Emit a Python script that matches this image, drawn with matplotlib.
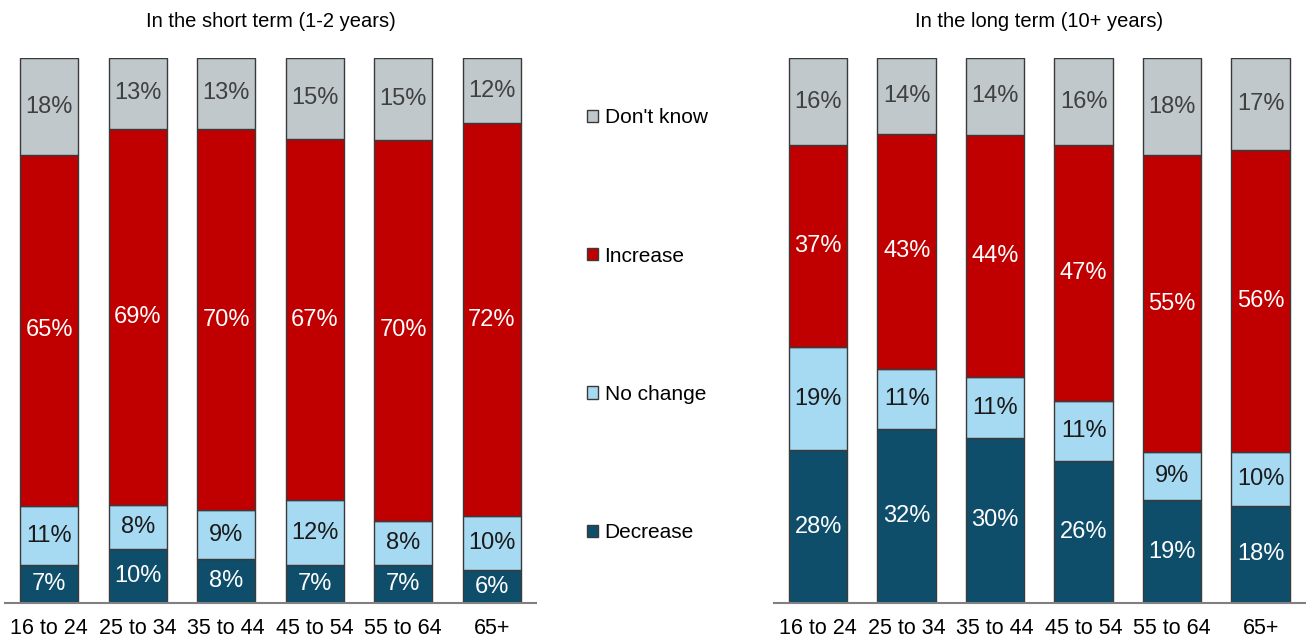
import numpy as np
import matplotlib.pyplot as plt
from matplotlib.patches import Patch

plt.rcParams['font.family'] = ['Liberation Sans', 'DejaVu Sans']

ages = ['16 to 24', '25 to 34', '35 to 44', '45 to 54', '55 to 64', '65+']
series = ['Decrease', 'No change', 'Increase', "Don't know"]
colors = ['#0E4E6B', '#A6D9F2', '#C00000', '#C0C8CC']
txt_colors = ['white', '#1a1a1a', 'white', '#404040']

# short term (1-2 years)
short_decrease = [7, 10, 8, 7, 7, 6]
short_nochange = [11, 8, 9, 12, 8, 10]
short_increase = [65, 69, 70, 67, 70, 72]
short_dontknow = [18, 13, 13, 15, 15, 12]

# long term (10+ years)
long_decrease = [28, 32, 30, 26, 19, 18]
long_nochange = [19, 11, 11, 11, 9, 10]
long_increase = [37, 43, 44, 47, 55, 56]
long_dontknow = [16, 14, 14, 16, 18, 17]

fig = plt.figure(figsize=(13.06, 6.39), dpi=100)
ax1 = fig.add_axes([0.0038, 0.0563, 0.4066, 0.853])
ax2 = fig.add_axes([0.5926, 0.0563, 0.4066, 0.853])


def draw(ax, data, title):
    data = np.array(data, dtype=float)
    totals = data.sum(axis=0)
    shares = data / totals * 100
    x = np.arange(len(ages))
    bottom = np.zeros(len(ages))
    for i in range(len(series)):
        ax.bar(x, shares[i], 0.66, bottom=bottom, color=colors[i],
               edgecolor='#3a3a3a', linewidth=1.0, zorder=2)
        for j in range(len(ages)):
            ax.text(x[j], bottom[j] + shares[i][j] / 2, '%d%%' % data[i][j],
                    ha='center', va='center', fontsize=17, color=txt_colors[i])
        bottom += shares[i]
    ax.set_xlim(-0.5, len(ages) - 0.5)
    ax.set_ylim(0, 100)
    ax.set_xticks(x)
    ax.set_xticklabels(ages, fontsize=15.5)
    ax.tick_params(axis='x', length=0, pad=11)
    ax.set_yticks([])
    for s in ['top', 'left', 'right']:
        ax.spines[s].set_visible(False)
    ax.spines['bottom'].set_color('#808080')
    ax.spines['bottom'].set_linewidth(1.5)
    ax.set_title(title, fontsize=14.5, pad=22)


draw(ax1, [short_decrease, short_nochange, short_increase, short_dontknow],
     'In the short term (1-2 years)')
draw(ax2, [long_decrease, long_nochange, long_increase, long_dontknow],
     'In the long term (10+ years)')

handles = [Patch(facecolor=colors[i], edgecolor='#3a3a3a', label=series[i])
           for i in range(len(series))][::-1]
fig.legend(handles=handles, loc='center left', bbox_to_anchor=(0.435, 0.491),
           frameon=False, fontsize=15, labelspacing=5.73, handlelength=0.55,
           handleheight=0.55, handletextpad=0.3)

fig.savefig('out.png', dpi=100)
